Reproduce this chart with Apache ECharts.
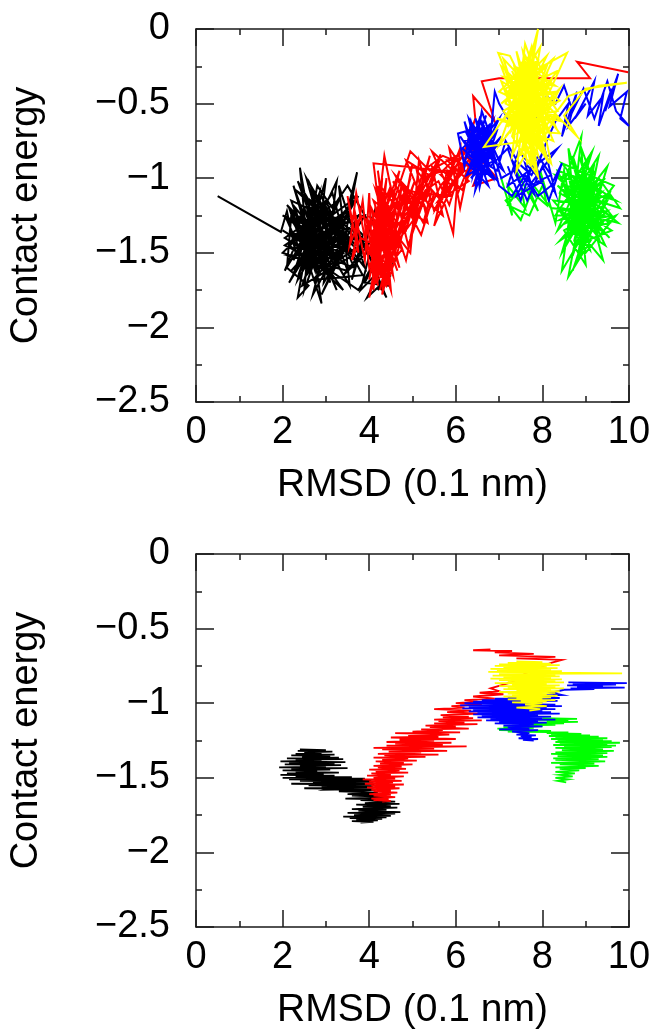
<!DOCTYPE html>
<html>
<head>
<meta charset="utf-8">
<script src="https://cdn.jsdelivr.net/npm/echarts@6/dist/echarts.min.js"></script>
<style>
html,body{margin:0;padding:0;background:#fff;}
#c{width:655px;height:1032px;}
</style>
</head>
<body>
<div id="c"></div>
<script>
// ---- axis settings ----
const xRange = [0, 10];
const yRange = [-2.5, 0];
const xTitle = 'RMSD (0.1 nm)';
const yTitle = 'Contact energy';

// ---- top panel trajectories: [RMSD, contact energy] ----
const topBlack = [[0.5,-1.12],[1.96,-1.36],[2.1,-1.22],[2.3,-1.5],[2.05,-1.62],[2.5,-1.3],[2.25,-1.05],[2.7,-1.42],[2.4,-0.93],[2.6,-1.55],[2.15,-1.45],[2.8,-1.2],[2.35,-1.68],[2.95,-1.38],[2.5,-1.75],[2.7,-1.1],[3.05,-1.55],[2.3,-1.3],[2.9,-1.84],[2.6,-1.25],[3.2,-1.45],[2.45,-1.58],[3.0,-1.0],[2.75,-1.62],[2.2,-1.15],[3.3,-1.3],[2.55,-1.45],[2.0,-1.35],[2.85,-1.5],[3.1,-1.7],[2.65,-1.05],[3.4,-1.5],[2.4,-1.4],[2.95,-1.25],[2.15,-1.7],[3.2,-1.2],[2.7,-1.78],[3.5,-1.35],[2.6,-1.6],[2.3,-1.2],[3.0,-1.45],[3.6,-1.15],[2.8,-1.32],[3.35,-1.62],[2.5,-1.12],[3.7,-1.45],[3.1,-1.3],[3.9,-1.6],[3.3,-1.05],[3.55,-1.72],[2.9,-1.4],[3.75,-1.25],[3.2,-1.55],[3.72,-0.96],[3.45,-1.38],[2.75,-1.5],[3.65,-1.6],[3.0,-1.15],[2.4,-1.48],[2.1,-1.28],[2.65,-1.35],[2.25,-1.55],[2.85,-1.1],[2.55,-1.65],[3.15,-1.42],[2.35,-1.02],[2.7,-1.3],[2.0,-1.5],[2.95,-1.6],[2.5,-1.2],[3.25,-1.75],[2.8,-1.45],[3.55,-1.28],[3.95,-1.5],[3.4,-1.65],[4.1,-1.4],[3.8,-1.75],[4.3,-1.6],[3.95,-1.8],[4.5,-1.65],[4.2,-1.75],[4.6,-1.55],[4.05,-1.62],[4.4,-1.8],[3.9,-1.45],[4.15,-1.2],[3.7,-1.55],[3.3,-1.4],[2.9,-1.22],[2.45,-1.36],[2.2,-1.42],[2.6,-1.48],[2.3,-1.6],[2.75,-1.2],[3.05,-1.35],[2.55,-1.52],[2.85,-1.62],[2.4,-1.25],[2.65,-1.4],[2.95,-1.48],[2.15,-1.35],[2.5,-1.42],[2.75,-1.28],[3.2,-1.6],[3.5,-1.45],[3.0,-1.55],[3.4,-1.25],[3.85,-1.38],[3.6,-1.68],[4.0,-1.3],[3.5,-1.05],[3.15,-1.2],[2.8,-1.05],[2.35,-1.8],[2.6,-1.72],[2.1,-1.6],
  [2.2,-1.25],[2.9,-1.55],[2.05,-1.4],[3.3,-1.15],[2.6,-1.62],[3.6,-1.35],[2.3,-1.08],[3.8,-1.5],[2.75,-1.4],[2.1,-1.18],[3.45,-1.58],[2.5,-1.28],[3.9,-1.25],[2.95,-1.7],[3.25,-1.02],[2.4,-1.55],[3.7,-1.4],[2.65,-1.15],[3.15,-1.65],[2.25,-1.48],[3.55,-1.2],[2.85,-1.35],[2.0,-1.25],[3.35,-1.48],[2.7,-1.68],[3.85,-1.65],[3.05,-1.22],[2.45,-1.72],[3.6,-1.52],[2.55,-1.0],[2.95,-1.42],[3.25,-1.3],[2.2,-1.62],[3.75,-1.12],[2.8,-1.58],[3.4,-1.75],[2.35,-1.32],[3.95,-1.42],[2.6,-1.38],[3.1,-1.5],[2.15,-1.52],[3.5,-1.62],[2.9,-1.12],[3.3,-1.4],[2.5,-1.5],[3.75,-1.75],[4.25,-1.5],[3.9,-1.7],[4.45,-1.72],[4.05,-1.55],[3.65,-1.3],[3.0,-1.28],[2.7,-1.52],[2.3,-1.38],[2.85,-1.25],[2.4,-1.62],[3.2,-1.35],[2.6,-1.2],[3.05,-1.65],[2.25,-1.3],[2.75,-1.55],[2.05,-1.45],[2.55,-1.35],[3.15,-1.1],[3.45,-1.42],[2.9,-1.78],[3.3,-1.55],[2.65,-1.45],[2.15,-1.2],[2.45,-1.45],[2.8,-1.4],[3.1,-1.58],[3.55,-1.5]];
const topRed = [[3.6,-1.3],[3.5,-1.12],[3.75,-1.5],[3.65,-1.2],[3.9,-1.55],[4.0,-1.1],[4.1,-1.75],[4.2,-1.2],[4.05,-1.5],[4.3,-1.0],[4.15,-1.65],[4.4,-1.3],[4.0,-1.8],[4.25,-1.4],[4.5,-1.05],[4.1,-1.35],[4.35,-1.7],[4.6,-1.2],[4.2,-1.55],[4.7,-0.95],[4.3,-1.25],[4.05,-1.62],[4.5,-1.45],[4.8,-1.1],[4.4,-1.6],[4.9,-1.3],[4.25,-1.05],[4.6,-1.5],[5.0,-0.9],[4.7,-1.38],[5.1,-1.15],[4.45,-1.2],[4.85,-1.55],[5.25,-1.0],[4.95,-1.4],[5.4,-0.85],[5.0,-1.25],[4.55,-1.02],[5.2,-1.38],[5.5,-1.1],[5.1,-0.95],[5.35,-1.3],[4.8,-1.2],[5.6,-0.9],[5.3,-1.15],[5.7,-1.25],[5.45,-0.92],[5.9,-1.05],[5.55,-1.2],[6.0,-0.85],[5.75,-1.1],[6.2,-0.95],[5.85,-0.8],[6.1,-1.2],[6.35,-0.85],[6.0,-1.02],[6.5,-0.7],[6.25,-1.0],[6.6,-0.9],[6.4,-1.05],[6.95,-1.0],[6.3,-0.78],[5.95,-0.95],[5.65,-1.05],[5.4,-1.2],[5.15,-1.05],[4.9,-1.22],[4.65,-1.32],[4.4,-1.45],[4.15,-1.3],[4.3,-1.58],[4.05,-1.4],[4.2,-1.72],[4.1,-1.45],[4.35,-1.15],[4.0,-1.3],[4.25,-1.62],[4.45,-1.38],[4.15,-1.08],[4.55,-1.28],[4.3,-1.48],[4.75,-1.05],[4.5,-1.6],[4.2,-1.35],[4.65,-1.15],[4.9,-1.45],[5.2,-1.2],[4.75,-1.25],[5.05,-1.02],[4.6,-1.42],[5.3,-1.08],[5.6,-1.02],[5.85,-1.18],[6.15,-0.9],[5.5,-1.32],[5.8,-0.95],[6.05,-1.1],[6.3,-0.92],[5.7,-0.85],[5.25,-0.95],[4.85,-1.35],[4.4,-1.22],[4.1,-1.6],[3.95,-1.3],[4.2,-1.45],[4.05,-1.2],[4.3,-1.35],[3.8,-1.25],[3.55,-1.45],[3.7,-1.1],[3.9,-1.4],[4.1,-1.55],[4.4,-1.72],[4.65,-1.5],[4.95,-1.18],[5.35,-0.98],[5.75,-0.95],
  [4.1,-0.9],[4.35,-1.5],[4.0,-1.25],[4.55,-1.65],[4.2,-0.95],[4.45,-1.55],[4.05,-1.72],[4.6,-1.1],[4.15,-1.48],[4.7,-1.35],[4.3,-1.78],[4.5,-1.25],[4.1,-1.15],[4.65,-1.62],[4.25,-1.3],[4.0,-1.68],[4.4,-1.0],[4.2,-1.6],[4.6,-1.4],[4.05,-1.35],[4.5,-1.75],[4.3,-1.1],[4.75,-1.48],[4.15,-1.7],[4.45,-1.18],[4.1,-1.5],[4.35,-0.85],[4.65,-1.28],[4.2,-1.42],[4.9,-1.05],[4.4,-1.52],[5.1,-1.25],[4.6,-0.98],[5.3,-1.2],[4.85,-0.88],[5.5,-1.0],[5.0,-1.32],[5.65,-0.84],[5.2,-1.1],[5.9,-1.12],[5.45,-0.82],[6.05,-0.98],[5.6,-1.15],[6.3,-1.02],[5.8,-0.88],[6.5,-0.85],[6.15,-1.08],[5.7,-0.95],[6.4,-0.75],[6.0,-0.92],[5.5,-1.22],[5.15,-0.88],[4.95,-1.5],[4.55,-1.35],[4.3,-1.65],[4.15,-1.22],[4.5,-1.42],[4.25,-1.75],[4.4,-1.58],[4.05,-1.45],[4.6,-1.2],[4.35,-1.32],[4.7,-1.6],[4.2,-1.05],[4.45,-1.68],[4.0,-1.5],[4.55,-1.08],[4.8,-1.3],[5.05,-1.15],[4.7,-1.02],[5.25,-1.3],[5.45,-1.08],[5.75,-1.18],[5.94,-1.37],[6.1,-0.8],[5.9,-0.95],[6.35,-0.95],[5.55,-0.95],[5.35,-1.12],[4.9,-1.08],[4.65,-1.45],[4.3,-1.2],[4.1,-1.68],[4.5,-1.5],[3.8,-1.4],[3.6,-1.55],[3.85,-1.15],[4.0,-1.6],[4.4,-1.3],[4.95,-0.82],[5.4,-0.95],[6.2,-0.82],[6.45,-0.6],[6.4,-0.45],[6.9,-0.62],[6.6,-0.35],[7.0,-0.33],[9.1,-0.33],[8.8,-0.22],[9.98,-0.29]];
const topGreen = [[7.05,-1.0],[7.3,-1.25],[7.2,-1.05],[7.6,-1.2],[7.45,-0.98],[7.9,-1.22],[7.7,-1.08],[8.1,-1.18],[7.95,-0.95],[8.3,-1.3],[8.5,-0.95],[8.8,-1.4],[8.6,-0.8],[9.0,-1.2],[8.4,-1.1],[8.9,-0.72],[8.7,-1.25],[9.2,-0.95],[8.55,-1.45],[9.1,-1.05],[8.3,-0.98],[9.4,-1.3],[8.75,-1.0],[8.45,-1.62],[9.0,-1.35],[8.65,-1.15],[9.3,-0.85],[8.85,-1.5],[9.55,-1.1],[8.5,-1.25],[9.15,-1.4],[8.6,-1.66],[8.95,-1.12],[9.45,-1.0],[8.35,-1.35],[9.05,-0.88],[8.8,-1.3],[9.6,-1.25],[8.7,-0.92],[9.25,-1.18],[8.25,-1.15],[9.4,-1.55],[8.9,-1.0],[9.7,-1.15],[8.55,-1.05],[9.1,-1.28],[8.4,-1.42],[9.35,-1.1],[8.75,-1.2],[9.5,-0.92],[8.95,-1.45],[8.6,-0.98],[9.2,-1.3],[8.45,-1.2],[9.75,-1.3],[8.85,-1.08],[9.0,-1.58],[8.5,-1.35],[9.3,-1.22],[8.65,-1.05],[9.15,-0.82],[8.8,-1.15],[9.55,-1.4],[8.35,-1.05],[9.05,-1.2],[8.7,-1.52],[9.25,-1.05],[8.9,-1.25],[9.45,-1.18],[8.55,-1.3],[9.1,-0.98],[8.75,-1.4],[9.65,-1.05],[8.45,-0.9],[9.0,-1.1],[8.6,-1.22],[9.35,-1.35],[8.85,-0.85],[9.2,-1.15],[8.4,-1.28],[9.5,-1.22],[8.95,-1.35],[8.7,-1.1],[9.79,-1.2],[9.3,-1.0],[8.8,-1.28],
  [8.9,-1.3],[8.5,-1.1],[9.3,-1.4],[8.7,-0.85],[9.1,-1.48],[8.4,-1.22],[9.5,-1.15],[8.8,-1.55],[9.2,-0.9],[8.6,-1.35],[9.4,-1.25],[8.3,-1.25],[9.0,-0.95],[8.75,-1.45],[9.6,-1.35],[8.55,-1.15],[9.25,-1.35],[8.95,-1.0],[8.45,-1.5],[9.15,-1.15],[8.8,-1.05],[9.45,-1.45],[8.65,-1.3],[9.05,-1.42],[8.35,-0.95],[9.35,-1.05],[8.85,-1.35],[9.55,-1.3],[8.6,-1.08],[9.0,-1.25],[8.9,-0.8],[9.3,-1.12],[8.7,-1.62],[9.15,-1.22],[8.5,-1.4],[9.7,-1.25],[9.0,-1.5],[8.8,-1.22],[8.2,-1.2],[7.8,-1.05],[7.5,-1.28],[7.15,-1.15],[7.4,-1.1],[7.2,-1.18],[7.7,-1.25],[8.0,-1.05]];
const topBlue = [[6.1,-0.72],[6.4,-0.85],[6.2,-0.62],[6.6,-0.95],[6.3,-0.78],[6.75,-0.65],[6.45,-1.02],[6.9,-0.8],[6.35,-0.9],[6.7,-0.58],[6.5,-0.75],[6.85,-1.0],[6.25,-0.85],[6.6,-0.7],[6.95,-0.9],[6.4,-0.65],[6.55,-1.06],[6.8,-0.75],[6.3,-0.95],[6.65,-0.82],[7.0,-0.6],[6.45,-0.8],[6.7,-0.98],[6.2,-0.75],[6.9,-0.7],[6.5,-0.9],[6.75,-0.85],[7.1,-0.95],[6.6,-0.62],[6.35,-0.72],[6.8,-0.92],[7.2,-0.8],[7.5,-1.05],[7.3,-0.88],[7.8,-1.1],[7.6,-0.9],[8.0,-1.02],[7.4,-1.12],[7.9,-0.85],[8.2,-0.98],[7.7,-1.05],[8.35,-0.8],[7.55,-0.98],[7.2,-1.05],[7.45,-0.82],[7.85,-0.95],[8.1,-0.75],[8.3,-0.62],[8.6,-0.5],[8.45,-0.72],[8.8,-0.42],[8.6,-0.65],[9.0,-0.5],[8.75,-0.6],[9.2,-0.35],[9.05,-0.58],[9.4,-0.45],[9.3,-0.65],[9.6,-0.4],[9.45,-0.55],[9.75,-0.3],[9.55,-0.52],[9.95,-0.42],[9.8,-0.6],[10,-0.65],[9.7,-0.55],[9.5,-0.35],[9.2,-0.6],[8.95,-0.4],[8.7,-0.55],[8.5,-0.38],[8.3,-0.5],[8.1,-0.45],[7.9,-0.6],[7.6,-0.5],[7.3,-0.65],[7.0,-0.5],[6.9,-0.42],[6.75,-0.88],[6.5,-0.68],[6.4,-0.98],[6.65,-0.76],[6.3,-0.82],[6.55,-0.6],[6.85,-0.85],[6.45,-0.92],[6.75,-0.72],[7.05,-1.0],[7.35,-0.95],[7.65,-1.15],[8.0,-0.92],[8.3,-1.1],[8.05,-0.8],[7.75,-0.98],[7.45,-0.9],[7.15,-0.75],[6.95,-0.95],[6.6,-0.88],[6.35,-0.62],[6.2,-0.92],[6.05,-0.7],
  [6.3,-0.68],[6.8,-0.98],[6.45,-0.6],[6.9,-0.88],[6.25,-0.98],[6.7,-0.7],[6.5,-0.95],[6.85,-0.62],[6.35,-0.85],[7.0,-0.78],[6.55,-0.72],[6.2,-0.88],[6.75,-1.05],[6.4,-0.75],[6.95,-0.68],[6.6,-0.98],[6.3,-0.6],[6.8,-0.82],[6.45,-1.08],[6.65,-0.66],[6.15,-0.8],[6.9,-1.0],[6.5,-0.82],[6.7,-0.9],[6.35,-1.0],[7.05,-0.72],[6.55,-0.88],[6.25,-0.7],[6.85,-0.76],[6.6,-0.55],[6.4,-0.9],[6.75,-0.78],[7.0,-1.05],[7.3,-1.12],[7.6,-0.98],[7.9,-1.12],[8.2,-1.05],[8.45,-0.9],[8.15,-1.15],[7.8,-0.88],[7.5,-1.15],[7.2,-0.92]];
const topYellow = [[7.6,-0.5],[7.2,-0.3],[8.0,-0.7],[7.4,-0.15],[7.9,-0.85],[7.1,-0.55],[8.2,-0.35],[7.5,-0.75],[7.8,-0.2],[7.0,-0.42],[8.3,-0.6],[7.65,-0.9],[7.35,-0.4],[8.1,-0.18],[7.25,-0.7],[7.9,0.0],[7.55,-0.62],[8.4,-0.48],[7.45,-0.28],[7.75,-0.8],[7.05,-0.25],[8.15,-0.55],[7.6,-0.1],[7.3,-0.85],[8.0,-0.4],[7.7,-0.65],[6.95,-0.6],[8.25,-0.75],[7.5,-0.22],[7.85,-0.5],[7.15,-0.72],[8.35,-0.28],[7.65,-0.38],[7.4,-0.95],[8.05,-0.6],[7.2,-0.48],[7.95,-0.12],[7.55,-0.82],[7.8,-0.35],[7.1,-0.32],[8.45,-0.62],[7.45,-0.55],[7.7,-0.2],[8.2,-0.9],[7.35,-0.6],[7.9,-0.45],[7.0,-0.78],[7.6,-0.3],[8.1,-0.68],[7.25,-0.18],[6.98,-0.16],[7.75,-0.72],[8.3,-0.42],[7.5,-0.45],[7.85,-0.95],[7.15,-0.4],[8.0,-0.25],[8.57,-0.16],[7.65,-0.75],[6.65,-0.79],[7.3,-0.52],[7.95,-0.62],[7.4,-0.32],[8.15,-0.48],[7.55,-0.15],[7.8,-0.6],[7.2,-0.65],[7.7,-0.42],[8.4,-0.7],[7.6,-0.68],[7.35,-0.25],[7.9,-0.32],[7.05,-0.5],[8.25,-0.2],[7.45,-0.7],[7.75,-0.5],[8.05,-0.85],[7.5,-0.58],[7.25,-0.38],[7.85,-0.22],[7.65,-0.55],[8.2,-0.5],[7.4,-0.48],[7.95,-0.78],[7.55,-0.35],[7.1,-0.62],[8.35,-0.55],[7.7,-0.28],[7.3,-0.72],[7.9,-0.99],[7.6,-0.45],[8.1,-0.38],[7.8,-0.68],[7.45,-0.42],[7.2,-0.58],[8.0,-0.52],[7.65,-0.25],[8.3,-0.38],
  [7.7,-0.35],[7.3,-0.62],[8.1,-0.3],[7.5,-0.85],[7.9,-0.22],[7.2,-0.42],[8.3,-0.65],[7.6,-0.18],[7.4,-0.78],[8.0,-0.48],[7.1,-0.2],[7.85,-0.88],[7.55,-0.28],[8.2,-0.62],[7.35,-0.5],[7.75,-0.12],[8.05,-0.75],[7.25,-0.6],[7.95,-0.38],[7.45,-0.68],[8.4,-0.4],[7.65,-0.82],[7.05,-0.35],[7.8,-0.48],[7.5,-0.3],[8.15,-0.9],[7.3,-0.28],[7.7,-0.58],[8.25,-0.45],[7.4,-0.88],[7.9,-0.62],[7.15,-0.5],[7.6,-0.22],[8.0,-0.58],[7.45,-0.38],[7.85,-0.78],[7.55,-0.68],[8.1,-0.25],[7.35,-0.45],[7.75,-0.92],[7.65,-0.32],[7.25,-0.52],[8.3,-0.5],[7.8,-0.15],[7.5,-0.62],[7.95,-0.7],
  [8.6,-0.45],[9.3,-0.38],[9.95,-0.36],[9.0,-0.4],[8.5,-0.58],[8.8,-0.72],[8.4,-0.6],[7.75,-0.4],[7.5,-0.52],[7.35,-0.65],[7.85,-0.58],[7.55,-0.48]];

// ---- bottom panel trajectories ----
const botBlack = [[2.4,-1.31],[3.0,-1.315],[2.35,-1.32],[3.15,-1.325],[2.5,-1.33],[2.9,-1.335],[2.3,-1.34],[3.2,-1.345],[2.2,-1.35],[3.1,-1.355],[2.45,-1.36],[3.3,-1.365],[2.1,-1.37],[3.4,-1.375],[2.3,-1.38],[2.9,-1.385],[1.95,-1.39],[3.45,-1.395],[2.15,-1.4],[3.2,-1.405],[2.05,-1.41],[3.35,-1.415],[2.4,-1.42],[3.0,-1.425],[1.92,-1.43],[3.5,-1.435],[2.2,-1.44],[3.1,-1.445],[2.0,-1.45],[2.8,-1.455],[2.3,-1.46],[3.3,-1.465],[2.1,-1.47],[2.95,-1.475],[1.95,-1.48],[3.2,-1.485],[2.3,-1.49],[3.6,-1.495],[2.0,-1.5],[3.9,-1.505],[2.15,-1.51],[4.05,-1.515],[2.4,-1.52],[4.1,-1.525],[2.7,-1.53],[4.0,-1.535],[2.2,-1.54],[4.12,-1.545],[2.6,-1.55],[4.08,-1.555],[2.9,-1.56],[4.1,-1.565],[2.5,-1.57],[4.0,-1.575],[3.0,-1.58],[3.9,-1.52],[2.8,-1.51],[4.1,-1.54],[3.2,-1.55],[4.05,-1.56],[3.4,-1.57],[4.15,-1.58],[3.3,-1.59],
  [4.2,-1.6],[3.5,-1.61],[4.4,-1.615],[3.6,-1.62],[4.5,-1.63],[3.45,-1.64],[4.3,-1.645],[3.8,-1.65],[4.6,-1.66],[3.9,-1.67],[4.7,-1.675],[3.7,-1.68],[4.5,-1.69],[3.85,-1.695],[4.65,-1.7],[3.6,-1.71],[4.4,-1.715],[3.75,-1.72],[4.72,-1.73],[3.5,-1.735],[4.6,-1.74],[3.65,-1.75],[4.5,-1.755],[3.4,-1.76],[4.4,-1.765],[3.55,-1.77],[4.3,-1.775],[3.7,-1.78],[4.2,-1.785],[3.6,-1.79],[4.1,-1.795],[3.8,-1.8]];
const botRed = [[4.3,-1.66],[4.5,-1.655],[4.1,-1.65],[4.45,-1.645],[4.05,-1.64],[4.6,-1.63],[4.1,-1.62],[4.5,-1.615],[4.0,-1.61],[4.65,-1.6],[4.1,-1.59],[4.5,-1.585],[4.05,-1.58],[4.7,-1.57],[3.95,-1.565],[4.6,-1.56],[4.05,-1.55],[4.8,-1.545],[3.9,-1.54],[4.55,-1.53],[4.0,-1.525],[4.75,-1.52],[3.85,-1.51],[4.6,-1.505],[4.1,-1.5],[4.8,-1.49],[3.95,-1.485],[4.5,-1.48],[4.05,-1.47],[4.9,-1.465],[4.15,-1.46],[4.7,-1.45],[4.0,-1.445],[4.85,-1.44],[4.2,-1.43],[4.75,-1.425],[4.1,-1.42],[5.0,-1.41],[4.25,-1.405],[4.8,-1.4],[4.15,-1.39],[5.1,-1.385],[4.3,-1.38],[4.9,-1.37],[4.1,-1.365],[5.3,-1.36],[4.35,-1.35],[5.6,-1.345],[4.2,-1.34],[5.2,-1.33],[4.45,-1.325],[5.8,-1.32],[4.3,-1.31],[5.5,-1.305],[4.1,-1.3],[6.25,-1.29],[4.4,-1.285],[5.7,-1.28],[4.6,-1.27],[5.9,-1.265],[4.4,-1.26],[5.5,-1.25],[4.7,-1.245],[6.0,-1.24],[4.5,-1.23],[5.6,-1.225],[4.9,-1.22],[5.85,-1.21],[4.6,-1.2],[6.1,-1.195],[5.0,-1.19],[5.7,-1.18],[5.2,-1.175],[6.3,-1.17],[5.4,-1.16],[6.0,-1.155],[5.3,-1.15],[6.5,-1.14],[5.5,-1.135],[6.2,-1.13],[5.6,-1.12],[6.6,-1.115],[5.5,-1.11],[6.4,-1.1],[5.7,-1.095],[6.3,-1.09],[5.65,-1.08],[6.55,-1.07],[5.8,-1.06],[6.35,-1.05],[5.5,-1.04],[6.2,-1.03],[5.9,-1.02],[6.6,-1.01],[6.0,-1.0],[6.5,-0.99],[6.2,-0.98],[6.9,-0.97],[6.4,-0.955],[7.1,-0.94],[6.55,-0.93],[7.0,-0.92],[6.8,-0.9],[7.4,-0.85],[7.6,-0.8],[8.2,-0.73],[8.45,-0.71],[7.4,-0.7],[8.3,-0.69],[7.0,-0.68],[7.8,-0.67],[6.9,-0.66],[7.3,-0.65],[6.4,-0.645],[6.8,-0.64]];
const botGreen = [[8.0,-1.1],[8.8,-1.105],[7.9,-1.11],[8.6,-1.115],[8.1,-1.12],[8.82,-1.125],[7.8,-1.13],[8.5,-1.135],[7.5,-1.14],[8.3,-1.145],[7.3,-1.15],[8.0,-1.155],[7.1,-1.16],[7.8,-1.165],[6.96,-1.17],[7.6,-1.175],[7.0,-1.18],[8.2,-1.185],[7.2,-1.19],[8.6,-1.195],[8.1,-1.2],[8.9,-1.205],[8.2,-1.21],[9.1,-1.215],[8.15,-1.22],[9.3,-1.225],[8.3,-1.23],[9.5,-1.235],[8.2,-1.24],[9.4,-1.245],[8.35,-1.25],[9.6,-1.255],[8.3,-1.26],[9.79,-1.265],[8.4,-1.27],[9.5,-1.275],[8.25,-1.28],[9.7,-1.285],[8.5,-1.29],[9.6,-1.295],[8.3,-1.3],[9.4,-1.31],[8.45,-1.315],[9.65,-1.32],[8.3,-1.33],[9.5,-1.335],[8.2,-1.34],[9.4,-1.35],[8.35,-1.355],[9.5,-1.36],[8.25,-1.37],[9.3,-1.375],[8.3,-1.38],[9.45,-1.39],[8.2,-1.4],[9.2,-1.405],[8.4,-1.41],[9.3,-1.42],[8.3,-1.43],[9.0,-1.435],[8.4,-1.44],[8.85,-1.45],[8.3,-1.46],[8.75,-1.47],[8.4,-1.48],[8.7,-1.49],[8.3,-1.5],[8.6,-1.51],[8.35,-1.52],[8.55,-1.53]];
const botBlue = [[8.6,-0.86],[9.95,-0.865],[8.7,-0.87],[9.7,-0.875],[8.57,-0.88],[9.4,-0.885],[8.8,-0.89],[9.9,-0.895],[8.65,-0.9],[9.2,-0.905],[8.5,-0.91],[8.2,-0.93],[8.45,-0.945],[7.6,-0.95],[8.3,-0.955],[7.2,-0.96],[8.4,-0.965],[6.9,-0.97],[8.2,-0.975],[6.6,-0.98],[8.35,-0.985],[6.4,-0.99],[8.0,-0.995],[6.2,-1.0],[8.3,-1.01],[6.1,-1.015],[8.45,-1.02],[6.3,-1.025],[8.1,-1.03],[6.15,-1.035],[8.3,-1.04],[6.4,-1.045],[8.0,-1.05],[6.3,-1.055],[8.2,-1.06],[6.5,-1.065],[8.4,-1.07],[6.4,-1.075],[7.9,-1.08],[6.6,-1.085],[8.2,-1.09],[6.5,-1.095],[8.0,-1.1],[6.8,-1.105],[8.3,-1.11],[6.7,-1.115],[7.9,-1.12],[7.0,-1.125],[8.1,-1.13],[6.9,-1.135],[7.8,-1.14],[7.1,-1.15],[8.0,-1.155],[7.2,-1.16],[7.7,-1.17],[7.0,-1.175],[7.9,-1.18],[7.3,-1.19],[7.7,-1.2],[7.4,-1.21],[7.85,-1.215],[7.5,-1.22],[7.75,-1.23],[7.45,-1.235],[7.9,-1.24],[7.55,-1.245],[7.8,-1.25]];
const botYellow = [[7.4,-0.72],[8.0,-0.725],[7.2,-0.73],[8.2,-0.735],[7.0,-0.74],[8.4,-0.745],[6.9,-0.75],[8.1,-0.755],[7.1,-0.76],[8.35,-0.765],[6.8,-0.77],[8.2,-0.775],[6.95,-0.78],[8.45,-0.785],[6.75,-0.79],[9.84,-0.8],[7.0,-0.805],[8.3,-0.81],[6.85,-0.815],[8.4,-0.82],[7.1,-0.825],[8.2,-0.83],[6.8,-0.835],[8.45,-0.84],[7.0,-0.845],[8.3,-0.85],[7.2,-0.855],[8.5,-0.86],[6.9,-0.865],[8.1,-0.87],[7.3,-0.875],[8.4,-0.88],[7.0,-0.885],[8.3,-0.89],[7.2,-0.895],[8.5,-0.9],[7.1,-0.905],[8.2,-0.91],[7.4,-0.915],[8.4,-0.92],[7.0,-0.925],[8.3,-0.93],[7.2,-0.935],[8.1,-0.94],[7.3,-0.945],[8.35,-0.95],[7.1,-0.955],[8.2,-0.96],[7.4,-0.965],[8.0,-0.97],[7.2,-0.975],[8.3,-0.98],[7.5,-0.985],[8.1,-0.99],[7.3,-0.995],[8.0,-1.0],[7.6,-1.01],[8.1,-1.02],[7.4,-1.03],[7.95,-1.04],[7.7,-1.05]];

const colors = {black:'#000000', red:'#ff0000', green:'#00ff00', blue:'#0000ff', yellow:'#ffff00'};
const FONT = 'Liberation Sans';
const AXIS_COLOR = '#1a1a1a';

function fmtY(v){ return v === 0 ? '0' : String(v).replace('-', '\u2212'); }

function xAxes(gi){
  return [
    {type:'value', gridIndex:gi, position:'bottom', min:xRange[0], max:xRange[1], interval:2,
     axisLine:{show:true, onZero:false, lineStyle:{color:AXIS_COLOR, width:1.5}},
     axisTick:{show:true, inside:true, length:17, lineStyle:{color:AXIS_COLOR, width:1.5}},
     minorTick:{show:true, splitNumber:2, length:6, lineStyle:{color:AXIS_COLOR, width:1.5}},
     splitLine:{show:false},
     axisLabel:{show:true, color:'#000', fontFamily:FONT, fontSize:38, margin:12},
     name:xTitle, nameLocation:'middle', nameGap:64,
     nameTextStyle:{color:'#000', fontFamily:FONT, fontSize:39}},
    {type:'value', gridIndex:gi, position:'top', min:xRange[0], max:xRange[1], interval:2,
     axisLine:{show:true, onZero:false, lineStyle:{color:AXIS_COLOR, width:1.5}},
     axisTick:{show:true, inside:true, length:17, lineStyle:{color:AXIS_COLOR, width:1.5}},
     minorTick:{show:true, splitNumber:2, length:6, lineStyle:{color:AXIS_COLOR, width:1.5}},
     splitLine:{show:false}, axisLabel:{show:false}}
  ];
}
function yAxes(gi){
  return [
    {type:'value', gridIndex:gi, position:'left', min:yRange[0], max:yRange[1], interval:0.5,
     axisLine:{show:true, onZero:false, lineStyle:{color:AXIS_COLOR, width:1.5}},
     axisTick:{show:true, inside:true, length:18, lineStyle:{color:AXIS_COLOR, width:1.5}},
     minorTick:{show:true, splitNumber:2, length:6, lineStyle:{color:AXIS_COLOR, width:1.5}},
     splitLine:{show:false},
     axisLabel:{show:true, color:'#000', fontFamily:FONT, fontSize:38, margin:26, formatter:fmtY},
     name:yTitle, nameLocation:'middle', nameGap:150, nameRotate:90,
     nameTextStyle:{color:'#000', fontFamily:FONT, fontSize:38}},
    {type:'value', gridIndex:gi, position:'right', min:yRange[0], max:yRange[1], interval:0.5,
     axisLine:{show:true, onZero:false, lineStyle:{color:AXIS_COLOR, width:1.5}},
     axisTick:{show:true, inside:true, length:18, lineStyle:{color:AXIS_COLOR, width:1.5}},
     minorTick:{show:true, splitNumber:2, length:6, lineStyle:{color:AXIS_COLOR, width:1.5}},
     splitLine:{show:false}, axisLabel:{show:false}}
  ];
}
function traj(data, color, xi, yi, w){
  return {type:'line', data:data, xAxisIndex:xi, yAxisIndex:yi, showSymbol:false, symbol:'none',
    smooth:false, animation:false, silent:true, clip:true,
    lineStyle:{color:color, width:w, join:'miter'}};
}

const chart = echarts.init(document.getElementById('c'), null, {renderer:'canvas'});
chart.setOption({
  backgroundColor:'#ffffff',
  animation:false,
  grid:[
    {left:195, top:29, width:434, height:373},
    {left:195, top:554, width:434, height:373}
  ],
  xAxis:[...xAxes(0), ...xAxes(1)],
  yAxis:[...yAxes(0), ...yAxes(1)],
  series:[
    traj(topBlack, colors.black, 0, 0, 2),
    traj(topRed, colors.red, 0, 0, 2),
    traj(topGreen, colors.green, 0, 0, 2),
    traj(topBlue, colors.blue, 0, 0, 2),
    traj(topYellow, colors.yellow, 0, 0, 2),
    traj(botBlack, colors.black, 2, 2, 1.8),
    traj(botRed, colors.red, 2, 2, 1.8),
    traj(botGreen, colors.green, 2, 2, 1.8),
    traj(botBlue, colors.blue, 2, 2, 1.8),
    traj(botYellow, colors.yellow, 2, 2, 1.8)
  ]
});
</script>
</body>
</html>
